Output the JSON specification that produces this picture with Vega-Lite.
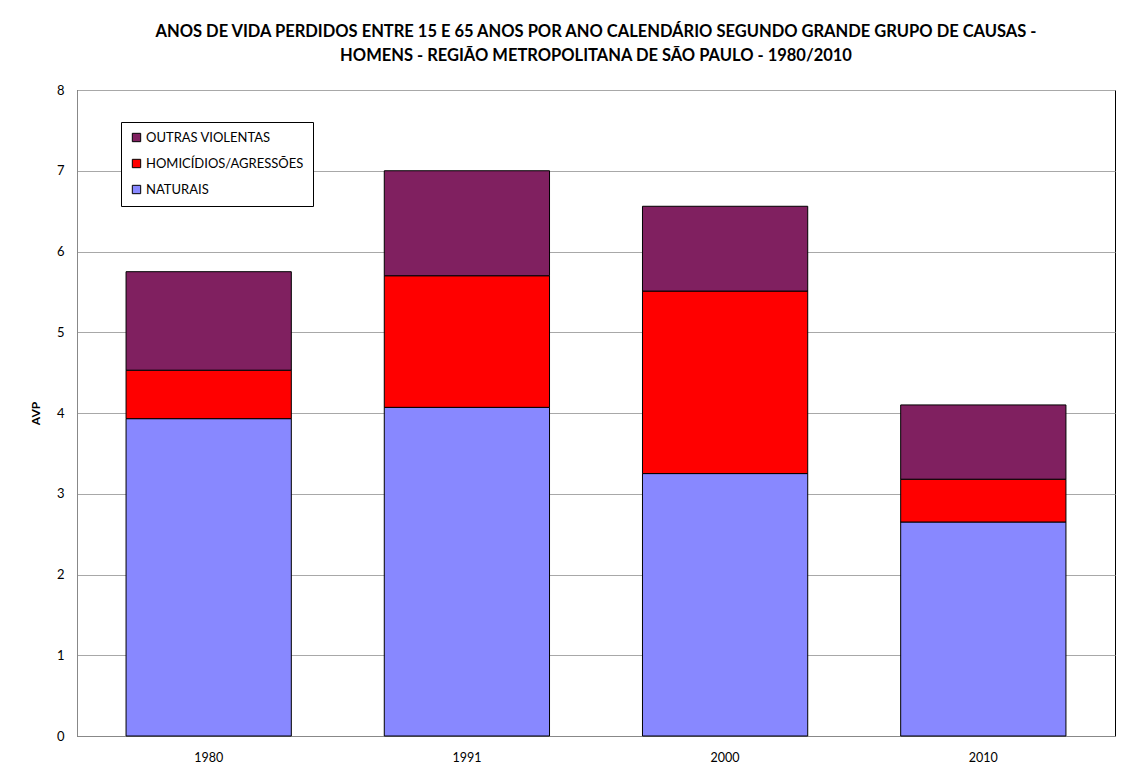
{
  "$schema": "https://vega.github.io/schema/vega-lite/v6.json",
  "width": 1038,
  "height": 646,
  "autosize": {"type": "none"},
  "padding": {"left": 77, "top": 90, "right": 21, "bottom": 44},
  "background": "white",
  "title": {
    "text": ["ANOS DE VIDA PERDIDOS ENTRE 15 E 65 ANOS POR ANO CALENDÁRIO SEGUNDO GRANDE GRUPO DE CAUSAS -", "HOMENS - REGIÃO METROPOLITANA DE SÃO PAULO - 1980/2010"],
    "font": "Lato",
    "fontSize": 16.5,
    "fontWeight": "bold",
    "lineHeight": 24,
    "anchor": "middle",
    "offset": 20,
    "color": "black"
  },
  "data": {
    "values": [
      {"ano": "1980", "causa": "NATURAIS", "ord": 1, "avp": 3.93},
      {"ano": "1980", "causa": "HOMICÍDIOS/AGRESSÕES", "ord": 2, "avp": 0.60},
      {"ano": "1980", "causa": "OUTRAS VIOLENTAS", "ord": 3, "avp": 1.22},
      {"ano": "1991", "causa": "NATURAIS", "ord": 1, "avp": 4.07},
      {"ano": "1991", "causa": "HOMICÍDIOS/AGRESSÕES", "ord": 2, "avp": 1.63},
      {"ano": "1991", "causa": "OUTRAS VIOLENTAS", "ord": 3, "avp": 1.30},
      {"ano": "2000", "causa": "NATURAIS", "ord": 1, "avp": 3.25},
      {"ano": "2000", "causa": "HOMICÍDIOS/AGRESSÕES", "ord": 2, "avp": 2.26},
      {"ano": "2000", "causa": "OUTRAS VIOLENTAS", "ord": 3, "avp": 1.05},
      {"ano": "2010", "causa": "NATURAIS", "ord": 1, "avp": 2.65},
      {"ano": "2010", "causa": "HOMICÍDIOS/AGRESSÕES", "ord": 2, "avp": 0.53},
      {"ano": "2010", "causa": "OUTRAS VIOLENTAS", "ord": 3, "avp": 0.92}
    ]
  },
  "mark": {"type": "bar", "stroke": "black", "strokeWidth": 1},
  "encoding": {
    "x": {
      "field": "ano", "type": "nominal",
      "scale": {"paddingInner": 0.36, "paddingOuter": 0.19},
      "axis": {"title": null, "labelAngle": 0, "labelFont": "Lato", "labelFontSize": 12.5, "labelColor": "black", "domainColor": "#888888", "ticks": false, "labelPadding": 15}
    },
    "y": {
      "field": "avp", "type": "quantitative", "stack": "zero",
      "scale": {"domain": [0, 8], "nice": false},
      "axis": {"title": "AVP", "titleFont": "Lato", "titleFontSize": 12, "titleFontWeight": "bold", "titleColor": "black", "titlePadding": 14, "values": [0,1,2,3,4,5,6,7,8], "labelOverlap": false, "labelFont": "Lato", "labelFontSize": 13, "labelColor": "black", "labelPadding": 13, "ticks": false, "domainColor": "#888888", "gridColor": "#a8a8a8", "gridWidth": 1}
    },
    "color": {
      "field": "causa", "type": "nominal",
      "scale": {"domain": ["OUTRAS VIOLENTAS", "HOMICÍDIOS/AGRESSÕES", "NATURAIS"], "range": ["#802060", "#ff0000", "#8888ff"]},
      "legend": {
        "title": null, "orient": "none", "legendX": 44, "legendY": 32,
        "symbolType": "square", "symbolSize": 70, "symbolStrokeColor": "black", "symbolStrokeWidth": 1,
        "labelFont": "Lato", "labelFontSize": 13, "labelColor": "black",
        "rowPadding": 12, "padding": 9, "strokeColor": "black", "fillColor": "white",
        "symbolOffset": 0, "labelOffset": 3
      }
    },
    "order": {"field": "ord", "type": "quantitative"}
  },
  "config": {
    "view": {"stroke": "black", "strokeWidth": 1}
  }
}
